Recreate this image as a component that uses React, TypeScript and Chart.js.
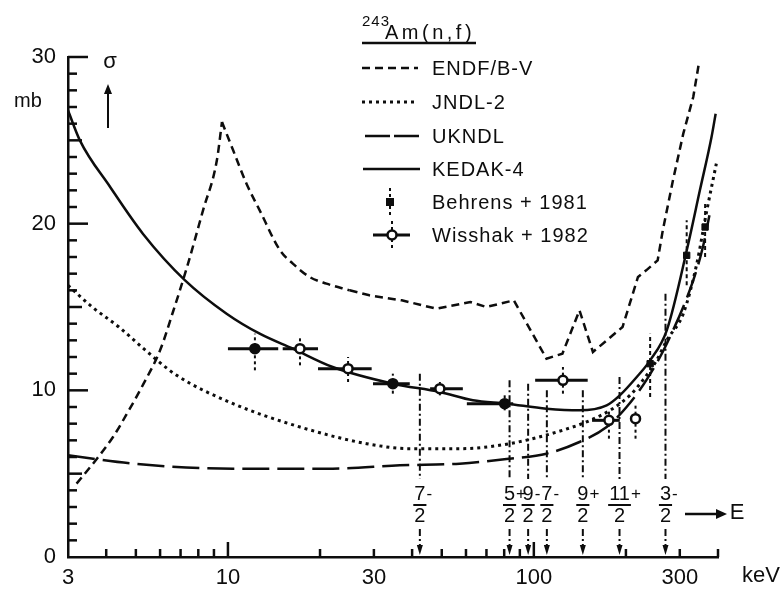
import React, { useEffect, useRef } from 'react';
import { Chart, registerables } from 'chart.js';

Chart.register(...registerables);

// Neutron energy (keV) and fission cross section (mb) for 243Am(n,f)
const endfE = [3.2, 3.73, 4.21, 4.71, 5.3, 6.0, 6.61, 7.35, 8.29, 9.2, 9.56, 10.4, 11.5, 12.7, 14.8, 16.3, 18.5, 21, 25, 29, 37, 48, 62, 70, 86, 110, 124, 141, 156, 195, 219, 233, 254, 264, 285, 308, 332, 347];
const endfS = [4.4, 5.9, 7.2, 8.7, 10.4, 12.4, 14.7, 17.4, 20.8, 23.8, 26.1, 24.4, 22.4, 20.8, 18.4, 17.6, 16.8, 16.4, 16.0, 15.7, 15.4, 14.9, 15.3, 15.0, 15.4, 11.9, 12.2, 14.8, 12.3, 13.8, 16.8, 17.2, 17.8, 19.6, 22.6, 25.4, 27.6, 29.7];
// the resonance peak and its smooth wings end here; beyond it the evaluation is piecewise
const endfSmoothEnd = 25;

const jndlE = [3, 3.6, 4.4, 5.3, 6.8, 10.4, 17.2, 28.4, 39.3, 57.2, 83.3, 124, 153, 181, 206, 227, 252, 272, 308, 341, 366, 395];
const jndlS = [16.3, 15.0, 13.8, 12.5, 10.9, 9.2, 7.8, 6.8, 6.5, 6.5, 6.8, 7.6, 8.2, 8.9, 9.7, 10.6, 11.8, 13.0, 14.6, 17.6, 20.6, 23.6];

const ukndlE = [3, 4.9, 10.4, 22, 36.5, 57.2, 83.3, 110, 141, 173, 201, 233, 272, 332, 357, 375];
const ukndlS = [6.1, 5.6, 5.3, 5.3, 5.5, 5.6, 5.9, 6.2, 6.9, 7.8, 9.0, 10.6, 12.8, 16.6, 18.6, 20.5];

const kedakE = [3, 3.28, 4.12, 5.27, 7.24, 9.9, 12.7, 16.3, 22, 34.6, 49.3, 63.2, 81.4, 110, 141, 173, 191, 217, 240, 272, 318, 349, 381, 393];
const kedakS = [26.8, 25.0, 22.2, 19.4, 16.6, 14.6, 13.4, 12.5, 11.4, 10.4, 9.9, 9.4, 9.2, 8.9, 8.8, 9.1, 9.7, 10.8, 11.8, 13.6, 18.6, 22.0, 25.2, 26.6];

// Behrens et al. 1981
const behE = [240, 316, 363];
const behS = [11.6, 18.1, 19.8];
const behLo = [9.6, 16.3, 18.0];
const behHi = [13.4, 20.2, 21.3];

// Wisshak et al. 1982
const wisE = [12.25, 17.2, 24.7, 34.6, 49.3, 80.3, 124.5, 176, 215];
const wisS = [12.5, 12.5, 11.3, 10.4, 10.1, 9.2, 10.6, 8.2, 8.3];
const wisElo = [10.0, 15.1, 19.7, 29.8, 45.8, 60.4, 101, 155, 215];
const wisEhi = [14.6, 19.7, 29.5, 39.3, 58.6, 85.6, 150, 191, 215];
const wisLo = [11.2, 11.5, 10.5, 9.8, 9.7, 8.8, 9.8, 7.1, 7.1];
const wisHi = [13.4, 13.3, 12.0, 11.0, 10.5, 9.7, 11.4, 8.8, 9.1];
const wisFilled = [true, false, false, true, false, true, false, false, false];

// Resonance levels: energy, top of marker line, spin and parity
const levelE = [42.4, 83.3, 95.8, 110.3, 144.6, 190.6, 269.4];
const levelTop = [11.0, 10.6, 10.4, 10.0, 10.0, 10.8, 15.8];
const levelNum = ['7', '5', '9', '7', '9', '11', '3'];
const levelSign = ['-', '+', '-', '-', '+', '+', '-'];

const xTickLabels = [3, 10, 30, 100, 300];
const xMinorTicks = [4, 5, 6, 7, 8, 9, 20, 30, 40, 50, 60, 70, 80, 90, 200, 300, 400];
const xMajorTicks = [10, 100];

const legendNames = ['ENDF/B-V', 'JNDL-2', 'UKNDL', 'KEDAK-4', 'Behrens + 1981', 'Wisshak + 1982'];

const FONT = '"Liberation Sans", Arial, sans-serif';
const INK = '#0d0d0d';
const DASH_ENDF = [8, 5];
const DASH_JNDL = [3, 4];
const DASH_UKNDL = [27, 8];
const DASH_LEVEL = [7, 3, 2, 3];

const pts = (xs: number[], ys: number[]) => xs.map((x, i) => ({ x, y: ys[i] }));

function seg(ctx: CanvasRenderingContext2D, x1: number, y1: number, x2: number, y2: number) {
  ctx.beginPath();
  ctx.moveTo(x1, y1);
  ctx.lineTo(x2, y2);
  ctx.stroke();
}

function tri(ctx: CanvasRenderingContext2D, a: number[], b: number[], c: number[]) {
  ctx.beginPath();
  ctx.moveTo(a[0], a[1]);
  ctx.lineTo(b[0], b[1]);
  ctx.lineTo(c[0], c[1]);
  ctx.closePath();
  ctx.fill();
}

const decorations = {
  id: 'decorations',
  beforeDatasetsDraw(chart: any) {
    const ctx: CanvasRenderingContext2D = chart.ctx;
    const xs = chart.scales.x;
    const ys = chart.scales.y;
    ctx.save();
    ctx.strokeStyle = INK;
    ctx.fillStyle = INK;

    // resonance level markers
    levelE.forEach((e, i) => {
      const x = xs.getPixelForValue(e);
      const top = ys.getPixelForValue(levelTop[i]);
      ctx.lineWidth = 2;
      ctx.setLineDash(DASH_LEVEL);
      seg(ctx, x, top, x, 479);
      seg(ctx, x, 529, x, 548);
      ctx.setLineDash([]);
      tri(ctx, [x - 3, 545], [x + 3, 545], [x, 555]);

      ctx.font = `20px ${FONT}`;
      ctx.textBaseline = 'middle';
      ctx.textAlign = 'center';
      const num = levelNum[i];
      const w = ctx.measureText(num).width;
      ctx.fillText(num, x, 494);
      ctx.fillText('2', x, 516);
      ctx.lineWidth = 2;
      seg(ctx, x - Math.max(w, 11) / 2 - 1, 505, x + Math.max(w, 11) / 2 + 1, 505);
      ctx.textAlign = 'left';
      ctx.font = `17px ${FONT}`;
      ctx.fillText(levelSign[i], x + w / 2 + 1, 494);
    });

    // Wisshak error bars
    wisE.forEach((e, i) => {
      const x = xs.getPixelForValue(e);
      const y = ys.getPixelForValue(wisS[i]);
      ctx.setLineDash([]);
      ctx.lineWidth = 3;
      if (wisEhi[i] > wisElo[i]) seg(ctx, xs.getPixelForValue(wisElo[i]), y, xs.getPixelForValue(wisEhi[i]), y);
      ctx.lineWidth = 2;
      ctx.setLineDash([3, 3]);
      seg(ctx, x, ys.getPixelForValue(wisLo[i]), x, ys.getPixelForValue(wisHi[i]));
    });

    // Behrens error bars
    behE.forEach((e, i) => {
      const x = xs.getPixelForValue(e);
      ctx.lineWidth = 2;
      ctx.setLineDash([4, 3]);
      seg(ctx, x, ys.getPixelForValue(behLo[i]), x, ys.getPixelForValue(behHi[i]));
    });
    ctx.restore();
  },
  afterDraw(chart: any) {
    const ctx: CanvasRenderingContext2D = chart.ctx;
    const xs = chart.scales.x;
    const ys = chart.scales.y;
    const area = chart.chartArea;
    ctx.save();
    ctx.strokeStyle = INK;
    ctx.fillStyle = INK;
    ctx.lineWidth = 2.5;
    ctx.setLineDash([]);

    // inward tick marks
    for (let v = 1; v <= 30; v++) {
      const y = ys.getPixelForValue(v);
      const len = v % 10 === 0 ? 20 : v % 5 === 0 ? 14 : 9;
      seg(ctx, area.left, y, area.left + len, y);
    }
    xMinorTicks.forEach((v) => {
      const x = xs.getPixelForValue(v);
      seg(ctx, x, area.bottom, x, area.bottom - 8);
    });
    xMajorTicks.forEach((v) => {
      const x = xs.getPixelForValue(v);
      seg(ctx, x, area.bottom, x, area.bottom - 15);
    });

    ctx.textBaseline = 'middle';
    ctx.textAlign = 'center';
    ctx.font = `20px ${FONT}`;
    ctx.fillText('mb', 28, 101);
    ctx.font = `22px ${FONT}`;
    ctx.fillText('σ', 110, 62);
    ctx.lineWidth = 2;
    seg(ctx, 108, 128, 108, 92);
    tri(ctx, [104, 94], [112, 94], [108, 84]);

    ctx.font = `22px ${FONT}`;
    ctx.fillText('keV', 761, 576);

    // energy direction arrow
    ctx.lineWidth = 2.5;
    seg(ctx, 685, 514, 718, 514);
    tri(ctx, [716, 509], [716, 519], [727, 514]);
    ctx.fillText('E', 737, 513);

    // title
    ctx.textAlign = 'left';
    (ctx as any).letterSpacing = '1px';
    ctx.font = `15px ${FONT}`;
    ctx.fillText('243', 362, 22);
    (ctx as any).letterSpacing = '3.5px';
    ctx.font = `20px ${FONT}`;
    ctx.fillText('Am(n,f)', 385, 33);
    ctx.lineWidth = 2.5;
    seg(ctx, 362, 43, 476, 43);

    // legend
    const rows = [68, 102, 136, 169, 202, 235];
    ctx.lineWidth = 2.5;
    ctx.setLineDash(DASH_ENDF);
    seg(ctx, 362, rows[0], 418, rows[0]);
    ctx.lineWidth = 3;
    ctx.setLineDash(DASH_JNDL);
    seg(ctx, 362, rows[1], 418, rows[1]);
    ctx.lineWidth = 2.5;
    ctx.setLineDash([25, 4]);
    seg(ctx, 365, rows[2], 419, rows[2]);
    ctx.setLineDash([]);
    seg(ctx, 363, rows[3], 420, rows[3]);

    ctx.lineWidth = 2;
    ctx.setLineDash([3, 3]);
    seg(ctx, 390, rows[4] - 14, 390, rows[4] + 15);
    seg(ctx, 392, rows[5] - 14, 392, rows[5] + 15);
    ctx.setLineDash([]);
    ctx.fillRect(386, rows[4] - 4, 8, 8);
    ctx.lineWidth = 3;
    seg(ctx, 373, rows[5], 410, rows[5]);
    ctx.beginPath();
    ctx.arc(392, rows[5], 4.5, 0, Math.PI * 2);
    ctx.fillStyle = '#fff';
    ctx.fill();
    ctx.lineWidth = 2.5;
    ctx.stroke();
    ctx.fillStyle = INK;

    (ctx as any).letterSpacing = '1px';
    ctx.font = `20px ${FONT}`;
    legendNames.forEach((name, i) => ctx.fillText(name, 432, rows[i] + 1));
    (ctx as any).letterSpacing = '0px';
    ctx.restore();
  },
};

export default function App() {
  const ref = useRef<HTMLCanvasElement>(null);

  useEffect(() => {
    document.body.style.margin = '0';
    const canvas = ref.current;
    if (!canvas) return;

    const curve = (label: string, data: any, dash: number[], width: number, smooth: boolean) => ({
      label,
      data,
      borderColor: INK,
      borderWidth: width,
      borderDash: dash,
      pointRadius: 0,
      fill: false,
      tension: 0,
      cubicInterpolationMode: smooth ? 'monotone' : 'default',
    });

    // ENDF/B-V: smooth rise and fall around the resonance, then point-to-point
    const endfPts = pts(endfE, endfS);
    const peak = endfS.indexOf(Math.max(...endfS.slice(0, 15)));
    const wingEnd = endfE.indexOf(endfSmoothEnd);

    const chart = new Chart(canvas, {
      type: 'line',
      data: {
        datasets: [
          {
            label: 'Behrens + 1981',
            data: pts(behE, behS),
            showLine: false,
            pointStyle: 'rect',
            pointRadius: 4.5,
            pointBackgroundColor: INK,
            pointBorderColor: INK,
            pointBorderWidth: 1,
          },
          {
            label: 'Wisshak + 1982',
            data: pts(wisE, wisS),
            showLine: false,
            pointStyle: 'circle',
            pointRadius: 4.5,
            pointBackgroundColor: wisFilled.map((f) => (f ? INK : '#fff')),
            pointBorderColor: INK,
            pointBorderWidth: 2.5,
          },
          curve('KEDAK-4', pts(kedakE, kedakS), [], 2.5, true),
          curve('UKNDL', pts(ukndlE, ukndlS), DASH_UKNDL, 2.5, true),
          curve('JNDL-2', pts(jndlE, jndlS), DASH_JNDL, 3, true),
          curve('ENDF/B-V', endfPts.slice(0, peak + 1), DASH_ENDF, 2.5, true),
          curve('ENDF/B-V', endfPts.slice(peak, wingEnd + 1), DASH_ENDF, 2.5, true),
          curve('ENDF/B-V', endfPts.slice(wingEnd), DASH_ENDF, 2.5, false),
        ] as any,
      },
      options: {
        responsive: false,
        animation: false,
        devicePixelRatio: 1,
        layout: { padding: { top: 57, right: 66, left: 0, bottom: 0 } },
        plugins: {
          legend: { display: false },
          tooltip: { enabled: false },
        },
        scales: {
          x: {
            type: 'logarithmic',
            min: 3,
            max: 400,
            border: { display: true, color: INK, width: 2.5 },
            grid: { display: false, drawTicks: false },
            ticks: {
              color: INK,
              font: { family: FONT, size: 22 },
              padding: 8,
              autoSkip: false,
              maxRotation: 0,
              callback: (v: any) => String(v),
            },
            afterBuildTicks: (scale: any) => {
              scale.ticks = xTickLabels.map((v) => ({ value: v }));
            },
            afterFit: (scale: any) => {
              scale.height = 32;
            },
          },
          y: {
            min: 0,
            max: 30,
            border: { display: true, color: INK, width: 2.5 },
            grid: { display: false, drawTicks: false },
            ticks: {
              color: INK,
              stepSize: 10,
              padding: 12,
              font: { family: FONT, size: 22 },
            },
            afterFit: (scale: any) => {
              scale.width = 68;
            },
          },
        },
      } as any,
      plugins: [decorations],
    });

    return () => chart.destroy();
  }, []);

  return (
    <div style={{ position: 'absolute', left: 0, top: 0, width: 784, height: 589, background: '#fff' }}>
      <canvas ref={ref} width={784} height={589} />
    </div>
  );
}
